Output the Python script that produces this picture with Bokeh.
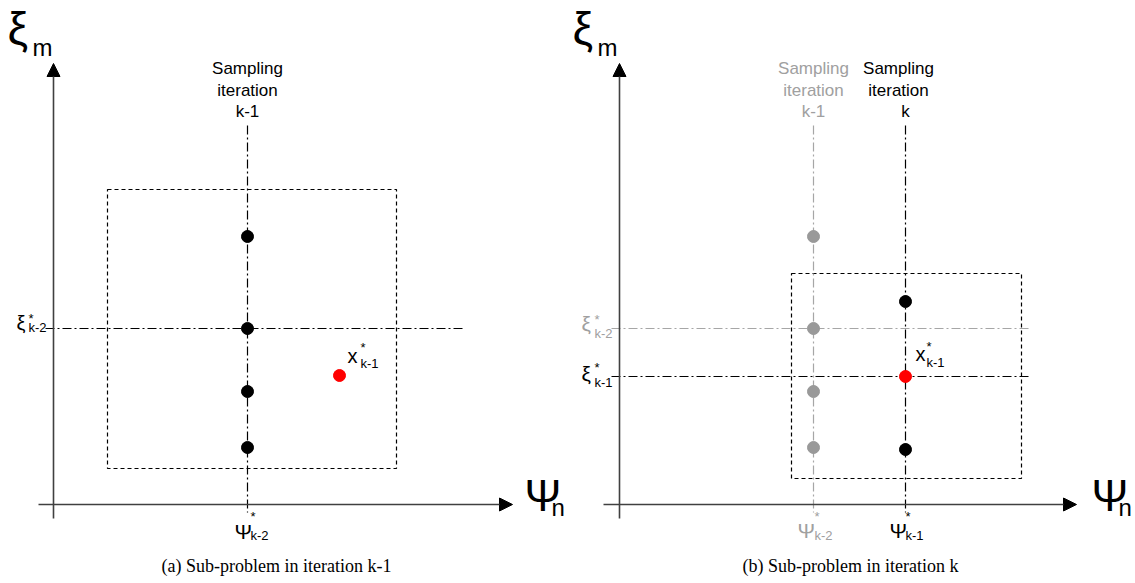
from bokeh.plotting import figure
from bokeh.models import Range1d, Arrow, NormalHead
from bokeh.core.properties import value
from bokeh.embed import file_html
from bokeh.resources import INLINE

W, H = 1135, 583

# ---------------- data (diagram coordinates, y grows downward) ----------------
axis_v_x = [53, 619]
axis_h_y = [504, 504]
axis_h_x0 = [38, 603]
axis_h_x1 = [512, 1076]
axis_v_y0 = [518, 518]
axis_v_y1 = [63, 63]

box_left = [107, 791]
box_right = [396, 1021]
box_top = [189, 273]
box_bottom = [468, 478]

vline_x = [247, 813, 905]
vline_color = ["black", "#a6a6a6", "black"]
vline_y0 = [125, 125, 125]
vline_y1 = [512, 512, 512]
hline_y = [328, 328, 376]
hline_color = ["black", "#a6a6a6", "black"]
hline_x0 = [45, 611, 611]
hline_x1 = [462, 1030, 1030]

a_pts_x = [247, 247, 247, 247]
a_pts_y = [236, 328, 391, 447]
b_old_x = [813, 813, 813, 813]
b_old_y = [236, 328, 391, 447]
b_new_x = [905, 905]
b_new_y = [301, 449]
best_x = [339, 905]
best_y = [375, 376]

captions = ["(a) Sub-problem in iteration k-1", "(b) Sub-problem in iteration k"]
caption_x = [276, 850]

GRAY_TXT = "#a0a0a0"
FONT = value("Liberation Sans")
TEXT_DY = -6

p = figure(width=W, height=H, x_range=Range1d(0, W), y_range=Range1d(H, 0),
           output_backend="svg", toolbar_location=None, min_border=0,
           x_axis_location=None, y_axis_location=None)
p.grid.visible = False
p.outline_line_color = None
p.background_fill_color = "white"
p.border_fill_color = "white"

p.quad(left=box_left, right=box_right, top=box_top, bottom=box_bottom,
       fill_color=None, line_color="black", line_width=1.2, line_dash="4 3")

p.segment(x0=vline_x, x1=vline_x, y0=vline_y0, y1=vline_y1,
          line_color=vline_color, line_width=1.2, line_dash="9 3 2 3")
p.segment(x0=hline_x0, x1=hline_x1, y0=hline_y, y1=hline_y,
          line_color=hline_color, line_width=1.2, line_dash="9 3 2 3")

for i in range(2):
    p.add_layout(Arrow(end=NormalHead(size=13, fill_color="black", line_color="black"),
                       x_start=axis_h_x0[i], y_start=axis_h_y[i],
                       x_end=axis_h_x1[i], y_end=axis_h_y[i],
                       line_color="#404040", line_width=1.6))
    p.add_layout(Arrow(end=NormalHead(size=13, fill_color="black", line_color="black"),
                       x_start=axis_v_x[i], y_start=axis_v_y0[i],
                       x_end=axis_v_x[i], y_end=axis_v_y1[i],
                       line_color="#404040", line_width=1.6))

p.scatter(a_pts_x, a_pts_y, size=12, color="black")
p.scatter(b_old_x, b_old_y, size=12, color="#999999")
p.scatter(b_new_x, b_new_y, size=12, color="black")
p.scatter(best_x, best_y, size=12, color="#ff0000")


def txt(x, y, s, size, color="black", align="left", font=FONT):
    p.text(x=[x], y=[y + TEXT_DY], text=[s], text_font=font, text_font_size=f"{size}px",
           text_align=align, text_baseline="alphabetic", text_color=color)


def starred(x, y, main, sub, color, msize=20, dx=12, star_dy=-14, sub_dy=5):
    txt(x, y, main, msize, color)
    xs = x + dx
    txt(xs, y + star_dy, "*", 13, color)
    txt(xs, y + sub_dy, sub, 13, color)


for xx, xm in [(7, 32), (572, 597)]:
    txt(xx, 34, "ξ", 46)
    txt(xm, 53, "m", 24)
for xx, xn in [(524, 551), (1091, 1118)]:
    txt(xx, 501, "Ψ", 44)
    txt(xn, 513, "n", 24)


def header(xc, last, color, xlast=None):
    txt(xc, 74, "Sampling", 17, color, "center")
    txt(xc, 95.5, "iteration", 17, color, "center")
    txt(xlast if xlast is not None else xc, 117, last, 17, color, "center")

header(247, "k-1", "black")
header(813, "k-1", GRAY_TXT)
header(898, "k", "black", 905)

starred(16, 328, "ξ", "k-2", "black", msize=20, dx=12, star_dy=-4, sub_dy=5)
starred(581, 329, "ξ", "k-2", GRAY_TXT, msize=21, dx=13, star_dy=-4, sub_dy=10)
starred(581, 379, "ξ", "k-1", "black", msize=21, dx=13, star_dy=-6, sub_dy=9)

starred(234, 537, "Ψ", "k-2", "black", msize=21, dx=16, star_dy=-15, sub_dy=4)
starred(797, 536, "Ψ", "k-2", GRAY_TXT, msize=21, dx=17, star_dy=-14, sub_dy=5)
starred(889, 536, "Ψ", "k-1", "black", msize=21, dx=16, star_dy=-14, sub_dy=5)

starred(347, 361, "x", "k-1", "black", msize=20, dx=13, star_dy=-8, sub_dy=8)
starred(915, 359, "x", "k-1", "black", msize=20, dx=11, star_dy=-7, sub_dy=9)

for c, cx in zip(captions, caption_x):
    txt(cx, 571, c, 18, "black", "center", value("Liberation Serif"))

open("out.html", "w").write(file_html(p, INLINE))
